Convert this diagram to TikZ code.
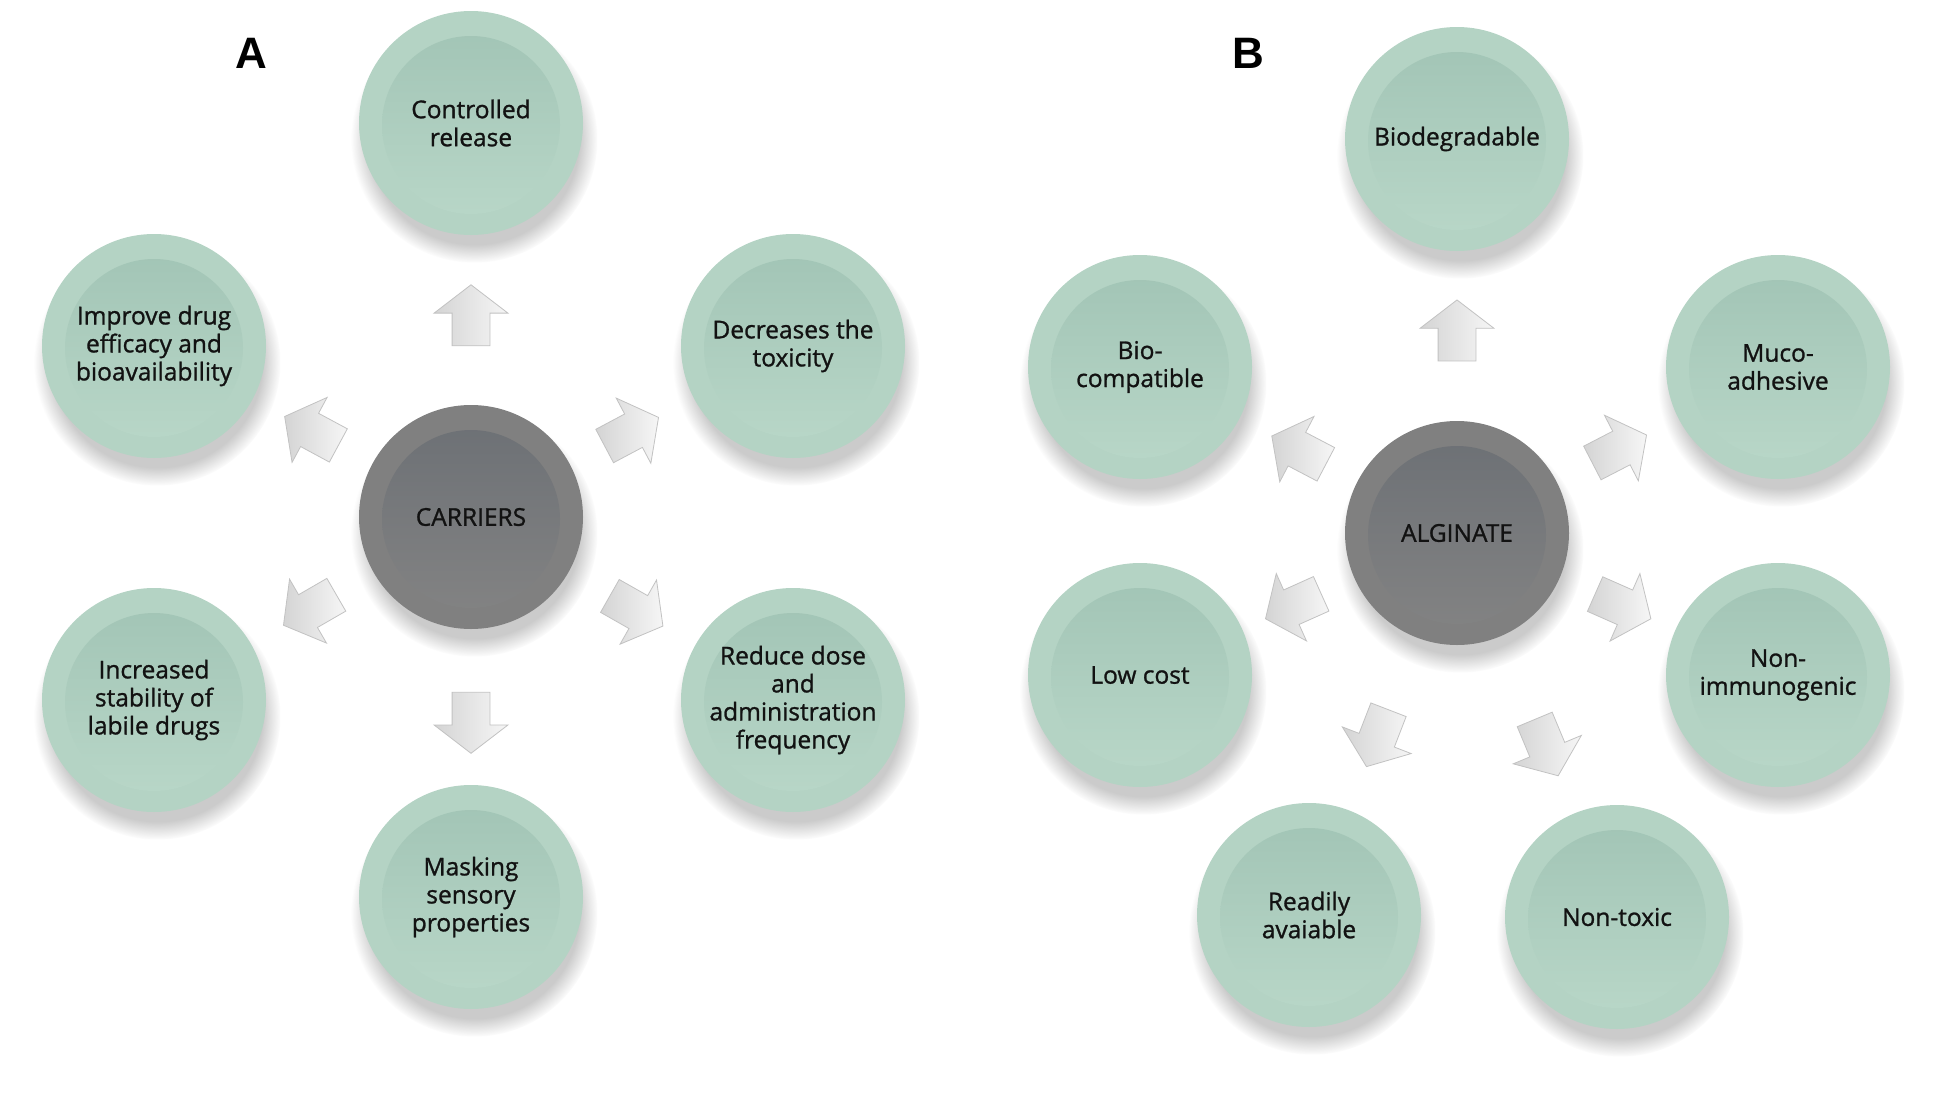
\documentclass[tikz,border=0pt]{standalone}
\usepackage{fontspec}
\setmainfont{Open Sans}
\newfontfamily\circfont{Open Sans}[FakeBold=1.1]
\newfontfamily\labfont{Liberation Sans}
\usetikzlibrary{shapes.arrows,shadows,calc}
\definecolor{gOut}{HTML}{B4D3C4}
\definecolor{gInTop}{HTML}{A0C3B4}
\definecolor{gInBot}{HTML}{BAD8C9}
\definecolor{kOut}{HTML}{808080}
\definecolor{kInTop}{HTML}{6B6F74}
\definecolor{kInBot}{HTML}{848484}
\definecolor{txt}{HTML}{121212}
\definecolor{arrEdge}{HTML}{C2C2C2}
\definecolor{arrDark}{HTML}{D4D4D4}
\definecolor{arrLight}{HTML}{F6F6F6}
\tikzset{
  bub/.style={circle, minimum size=224pt, inner sep=0pt, align=center, text=txt,
    font=\circfont\fontsize{24.5}{28}\selectfont,
    circular drop shadow={shadow xshift=3pt, shadow yshift=-15pt, shadow scale=1.1, opacity=0.5, fill=black!40}},
  greenbub/.style={bub, fill=gOut,
    path picture={\fill[top color=gInTop, bottom color=gInBot] ([yshift=-2pt]path picture bounding box.center) circle (89pt);}},
  graybub/.style={bub, fill=kOut,
    path picture={\fill[top color=kInTop, bottom color=kInBot] ([yshift=-2pt]path picture bounding box.center) circle (89pt);}},
  blockarr/.style={single arrow, draw=arrEdge, line width=0.8pt, left color=arrDark, right color=arrLight,
    minimum height=61pt, minimum width=37pt, single arrow head extend=18pt,
    single arrow tip angle=105, inner sep=0pt, inner ysep=18.5pt, sloped, allow upside down},
  panellab/.style={font=\labfont\bfseries\fontsize{44}{44}\selectfont, text=black, inner sep=0pt}
}
\begin{document}
\begin{tikzpicture}[x=1pt, y=-1pt]
\useasboundingbox (0,0) rectangle (1933,1100);
\fill[white] (0,0) rectangle (1933,1100);
% Panel A
\node[panellab] (labA) at (251,53) {A};
\node[graybub] (car) at (471,517) {CARRIERS};
\node[greenbub] (cr) at (471,123) {Controlled\\release};
\node[greenbub] (imp) at (154,346) {Improve drug\\efficacy and\\bioavailability};
\node[greenbub] (dec) at (793,346) {Decreases the\\toxicity};
\node[greenbub] (inc) at (154,700) {Increased\\stability of\\labile drugs};
\node[greenbub] (red) at (793,700) {Reduce dose\\and\\administration\\frequency};
\node[greenbub] (mask) at (471,897) {Masking\\sensory\\properties};
\path (car) -- (cr) node[blockarr, pos=0.485] (a1) {};
\path (car) -- (imp) node[blockarr, pos=0.455] (a2) {};
\path (car) -- (dec) node[blockarr, pos=0.445] (a3) {};
\path (car) -- (inc) node[blockarr, pos=0.47] (a4) {};
\path (car) -- (red) node[blockarr, pos=0.485] (a5) {};
\path (car) -- (mask) node[blockarr, pos=0.555] (a6) {};
% Panel B
\node[panellab] (labB) at (1248,53) {B};
\node[graybub] (alg) at (1457,533) {ALGINATE};
\node[greenbub] (bio) at (1457,139) {\raisebox{-3pt}{Biodegradable}};
\node[greenbub] (bc) at (1140,367) {Bio-\\compatible};
\node[greenbub] (muc) at (1778,367) {Muco-\\adhesive};
\node[greenbub] (low) at (1140,675) {Low cost};
\node[greenbub] (non) at (1778,675) {Non-\\immunogenic};
\node[greenbub] (rea) at (1309,915) {Readily\\avaiable};
\node[greenbub] (ntx) at (1617,917) {Non-toxic};
\path (alg) -- (bio) node[blockarr, pos=0.49] (b1) {};
\path (alg) -- (bc) node[blockarr, pos=0.443] (b2) {};
\path (alg) -- (muc) node[blockarr, pos=0.463] (b3) {};
\path (alg) -- (low) node[blockarr, pos=0.487] (b4) {};
\path (alg) -- (non) node[blockarr, pos=0.49] (b5) {};
\path (alg) -- (rea) node[blockarr, pos=0.543] (b6) {};
\path (alg) -- (ntx) node[blockarr, pos=0.59] (b7) {};
\end{tikzpicture}
\end{document}
